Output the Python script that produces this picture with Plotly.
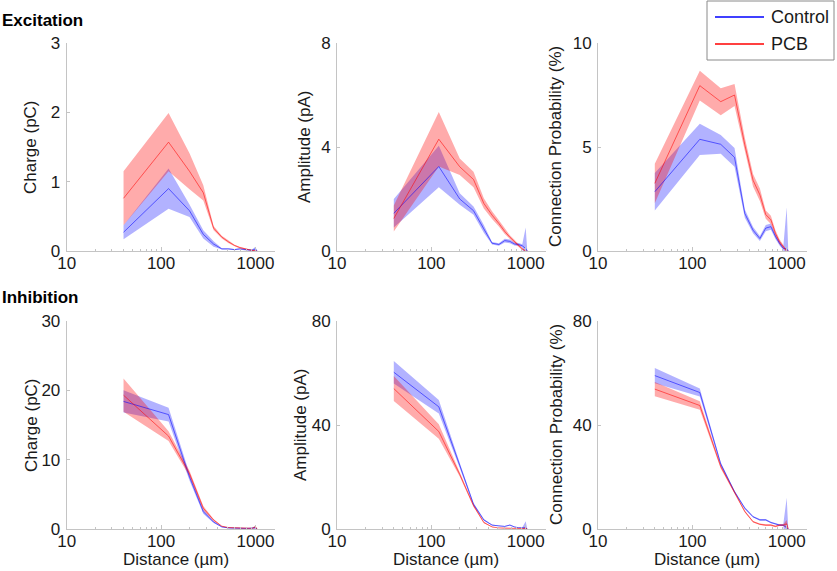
import plotly.graph_objects as go

# ---------------- data ----------------
distance = [40, 120, 200, 280, 360, 440, 520, 600, 680, 760, 840, 920, 1000, 1040]
x_tickvals = [10, 100, 1000]
x_ticktext = ["10", "100", "1000"]
series_names = ["Control", "PCB"]

# Excitation - charge (pC)
exc_charge_ctrl = [0.27, 0.90, 0.58, 0.24, 0.10, 0.03, 0.03, 0.02, 0.03, 0.02, 0.01, 0.01, 0.03, 0.0]
exc_charge_ctrl_err = [0.10, 0.29, 0.09, 0.06, 0.04, 0.01, 0.01, 0.01, 0.01, 0.01, 0.01, 0.01, 0.03, 0.0]
exc_charge_pcb = [0.76, 1.57, 1.15, 0.84, 0.33, 0.20, 0.13, 0.08, 0.05, 0.03, 0.02, 0.01, 0.0, 0.0]
exc_charge_pcb_err = [0.39, 0.42, 0.26, 0.11, 0.03, 0.02, 0.02, 0.01, 0.01, 0.01, 0.01, 0.01, 0.01, 0.0]

# Excitation - amplitude (pA)
exc_amp_ctrl = [1.45, 3.25, 2.0, 1.55, 0.85, 0.30, 0.25, 0.40, 0.37, 0.27, 0.25, 0.20, 0.10, 0.0]
exc_amp_ctrl_err = [0.55, 0.80, 0.22, 0.16, 0.15, 0.05, 0.05, 0.07, 0.07, 0.06, 0.06, 0.06, 0.80, 0.0]
exc_amp_pcb = [1.25, 4.30, 3.24, 2.75, 1.83, 1.38, 1.06, 0.75, 0.53, 0.37, 0.20, 0.08, 0.0, 0.0]
exc_amp_pcb_err = [0.50, 1.05, 0.32, 0.30, 0.20, 0.15, 0.12, 0.10, 0.08, 0.06, 0.05, 0.04, 0.02, 0.0]

# Excitation - connection probability (%)
exc_prob_ctrl = [2.85, 5.37, 5.13, 4.50, 1.80, 1.00, 0.60, 1.10, 1.17, 0.70, 0.37, 0.13, 0.10, 0.0]
exc_prob_ctrl_err = [0.90, 0.75, 0.45, 0.45, 0.20, 0.15, 0.12, 0.15, 0.15, 0.12, 0.10, 0.08, 2.00, 0.0]
exc_prob_pcb = [3.25, 7.95, 7.18, 7.50, 5.10, 3.40, 2.70, 1.75, 1.50, 0.85, 0.45, 0.20, 0.0, 0.0]
exc_prob_pcb_err = [0.95, 0.72, 0.65, 0.53, 0.35, 0.30, 0.30, 0.20, 0.20, 0.15, 0.12, 0.08, 0.05, 0.0]

# Inhibition - charge (pC)
inh_charge_ctrl = [18.4, 16.5, 7.5, 2.5, 1.0, 0.30, 0.15, 0.10, 0.10, 0.10, 0.10, 0.10, 0.20, 0.0]
inh_charge_ctrl_err = [1.6, 1.0, 0.5, 0.3, 0.15, 0.05, 0.05, 0.05, 0.05, 0.05, 0.05, 0.05, 0.20, 0.0]
inh_charge_pcb = [19.3, 13.4, 8.0, 3.0, 1.3, 0.40, 0.20, 0.15, 0.10, 0.10, 0.10, 0.10, 0.30, 0.0]
inh_charge_pcb_err = [2.4, 0.7, 0.4, 0.3, 0.15, 0.05, 0.05, 0.05, 0.05, 0.05, 0.05, 0.05, 0.20, 0.0]

# Inhibition - amplitude (pA)
inh_amp_ctrl = [60.3, 47.0, 24.5, 9.5, 3.5, 1.5, 1.2, 1.0, 1.5, 0.8, 0.5, 0.5, 0.5, 0.0]
inh_amp_ctrl_err = [4.3, 2.6, 1.0, 0.6, 0.3, 0.2, 0.15, 0.15, 0.2, 0.15, 0.1, 0.1, 2.5, 0.0]
inh_amp_pcb = [54.0, 37.5, 21.0, 9.0, 2.5, 0.8, 0.4, 0.3, 0.3, 0.2, 0.2, 0.2, 0.3, 0.0]
inh_amp_pcb_err = [4.8, 2.8, 0.8, 0.5, 0.3, 0.1, 0.1, 0.1, 0.1, 0.1, 0.1, 0.1, 0.3, 0.0]

# Inhibition - connection probability (%)
inh_prob_ctrl = [59.0, 52.5, 25.0, 14.3, 8.0, 4.7, 3.5, 3.5, 2.5, 2.0, 1.5, 1.5, 0.5, 0.0]
inh_prob_ctrl_err = [2.9, 1.5, 0.7, 0.5, 0.4, 0.3, 0.3, 0.3, 0.3, 0.3, 0.3, 0.3, 11.5, 0.0]
inh_prob_pcb = [53.8, 47.5, 24.0, 14.0, 6.7, 2.8, 1.8, 1.5, 1.5, 1.0, 1.5, 1.5, 2.0, 0.0]
inh_prob_pcb_err = [2.7, 1.6, 0.7, 0.5, 0.4, 0.3, 0.3, 0.3, 0.3, 0.3, 0.3, 0.3, 1.5, 0.0]

panels = [
    # (row, col, ctrl, ctrl_err, pcb, pcb_err, ymax, dtick, ylabel)
    (0, 0, exc_charge_ctrl, exc_charge_ctrl_err, exc_charge_pcb, exc_charge_pcb_err, 3, 1, "Charge (pC)"),
    (0, 1, exc_amp_ctrl, exc_amp_ctrl_err, exc_amp_pcb, exc_amp_pcb_err, 8, 4, "Amplitude (pA)"),
    (0, 2, exc_prob_ctrl, exc_prob_ctrl_err, exc_prob_pcb, exc_prob_pcb_err, 10, 5, "Connection Probability (%)"),
    (1, 0, inh_charge_ctrl, inh_charge_ctrl_err, inh_charge_pcb, inh_charge_pcb_err, 30, 10, "Charge (pC)"),
    (1, 1, inh_amp_ctrl, inh_amp_ctrl_err, inh_amp_pcb, inh_amp_pcb_err, 80, 40, "Amplitude (pA)"),
    (1, 2, inh_prob_ctrl, inh_prob_ctrl_err, inh_prob_pcb, inh_prob_pcb_err, 80, 40, "Connection Probability (%)"),
]

# ---------------- layout geometry (pixels) ----------------
W, H = 837, 571
col_px = [(66.7, 275.3), (337.0, 545.5), (598.0, 806.5)]
row_px = [(43.0, 251.0), (321.0, 529.0)]
ytitle_x = [[31, 305, 556], [31, 300, 556]]
FONT = "Liberation Sans, Arial, sans-serif"
TXT = "#1a1a1a"
AX = "#c4c4c4"
FS = 17

BLUE_FILL = "rgba(0,0,255,0.30)"
RED_FILL = "rgba(255,0,0,0.33)"
BLUE_LINE = "rgba(0,0,255,0.55)"
RED_LINE = "rgba(255,0,0,0.55)"
LEGEND_COLORS = ["#0000ff", "#ff0000"]

fig = go.Figure()
layout = {}
annotations = []
shapes = []

for i, (r, c, ctrl, cerr, pcb, perr, ymax, dt, ylabel) in enumerate(panels):
    k = i + 1
    xa = "x" if k == 1 else f"x{k}"
    ya = "y" if k == 1 else f"y{k}"
    for mean, err, fillc in [(ctrl, cerr, BLUE_FILL), (pcb, perr, RED_FILL)]:
        hi = [m + e for m, e in zip(mean, err)]
        lo = [m - e for m, e in zip(mean, err)]
        fig.add_trace(go.Scatter(
            x=distance + distance[::-1], y=hi + lo[::-1], fill="toself",
            fillcolor=fillc, line=dict(width=0), mode="lines",
            hoverinfo="skip", showlegend=False, xaxis=xa, yaxis=ya))
    for mean, linec, name in [(ctrl, BLUE_LINE, series_names[0]), (pcb, RED_LINE, series_names[1])]:
        fig.add_trace(go.Scatter(
            x=distance, y=mean, mode="lines", line=dict(color=linec, width=1),
            showlegend=False, name=name, xaxis=xa, yaxis=ya))

    x0, x1 = col_px[c]
    y0, y1 = row_px[r]
    xkey = "xaxis" if k == 1 else f"xaxis{k}"
    ykey = "yaxis" if k == 1 else f"yaxis{k}"
    layout[xkey] = dict(
        type="log", range=[1, 3.21], domain=[x0 / W, x1 / W], anchor=ya,
        automargin=False,
        tickmode="array", tickvals=x_tickvals, ticktext=x_ticktext,
        showline=True, linecolor=AX, linewidth=1, showgrid=False, zeroline=False,
        ticks="inside", ticklen=4, tickcolor=AX,
        minor=dict(ticks="inside", ticklen=2, tickcolor=AX, dtick="D1", showgrid=False),
        tickfont=dict(family=FONT, size=FS, color=TXT), ticklabelstandoff=-3,
    )
    layout[ykey] = dict(
        range=[0, ymax], domain=[1 - y1 / H, 1 - y0 / H], anchor=xa,
        automargin=False,
        tickmode="linear", tick0=0, dtick=dt,
        showline=True, linecolor=AX, linewidth=1, showgrid=False, zeroline=False,
        ticks="inside", ticklen=3, tickcolor=AX,
        tickfont=dict(family=FONT, size=FS, color=TXT), ticklabelstandoff=2,
    )
    annotations.append(dict(
        text=ylabel, textangle=-90, x=ytitle_x[r][c] / W, y=1 - (y0 + y1) / 2 / H,
        xref="paper", yref="paper", xanchor="center", yanchor="middle",
        showarrow=False, font=dict(family=FONT, size=FS, color=TXT)))
    if r == 1:
        annotations.append(dict(
            text="Distance (µm)", x=((x0 + x1) / 2 + 5) / W, y=1 - 559 / H,
            xref="paper", yref="paper", xanchor="center", yanchor="middle",
            showarrow=False, font=dict(family=FONT, size=FS, color=TXT)))

annotations.append(dict(text="<b>Excitation</b>", x=0, y=1 - 20 / H, xref="paper", yref="paper",
                        xanchor="left", yanchor="middle", showarrow=False,
                        font=dict(family=FONT, size=FS, color="#000")))
annotations.append(dict(text="<b>Inhibition</b>", x=0, y=1 - 297 / H, xref="paper", yref="paper",
                        xanchor="left", yanchor="middle", showarrow=False,
                        font=dict(family=FONT, size=FS, color="#000")))

# legend box (drawn in paper space)
shapes.append(dict(type="rect", xref="paper", yref="paper",
                   x0=707 / W, x1=834 / W, y0=1 - 60 / H, y1=1 - 1 / H,
                   line=dict(color="#8a8a8a", width=1), fillcolor="white"))
for j, (nm, colr) in enumerate(zip(series_names, LEGEND_COLORS)):
    yy = 1 - (17 + 27 * j) / H
    shapes.append(dict(type="line", xref="paper", yref="paper",
                       x0=715 / W, x1=764 / W, y0=yy, y1=yy,
                       line=dict(color=colr, width=1.5)))
    annotations.append(dict(text=nm, x=769 / W, y=yy, xref="paper", yref="paper",
                            xanchor="left", yanchor="middle", showarrow=False,
                            font=dict(family=FONT, size=18, color=TXT)))

fig.update_layout(
    width=W, height=H, margin=dict(l=0, r=0, t=0, b=0, autoexpand=False),
    paper_bgcolor="white", plot_bgcolor="white",
    annotations=annotations, shapes=shapes, showlegend=False,
    **layout,
)

fig.write_html("out.html", config={"displayModeBar": False},
               post_script="document.body.style.margin='0';document.body.style.padding='0';")
